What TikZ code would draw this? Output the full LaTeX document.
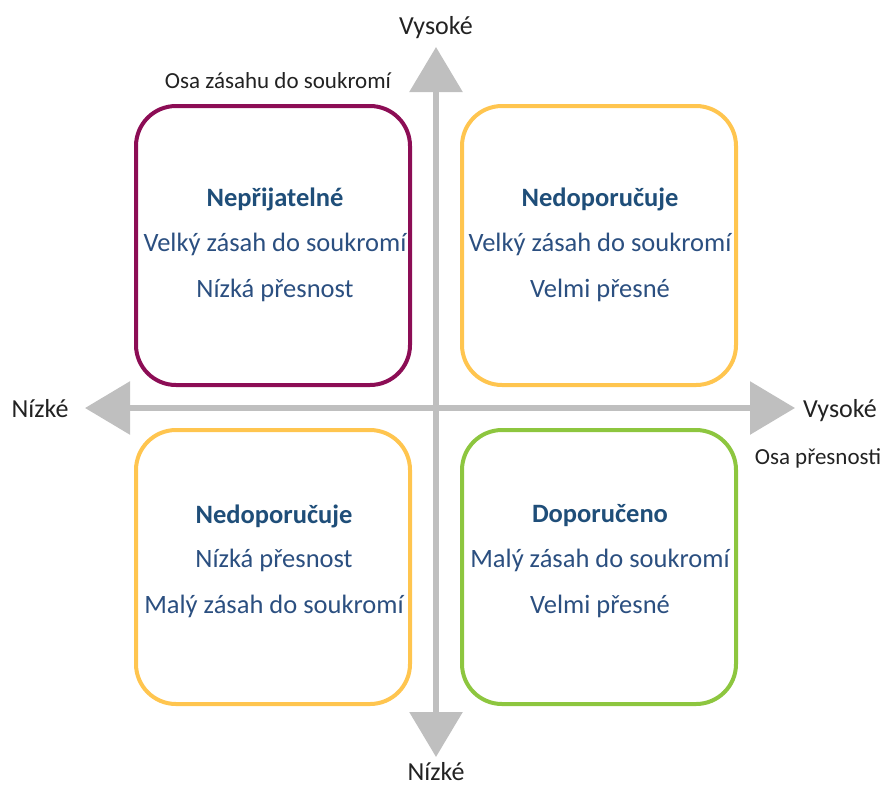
\documentclass[tikz,border=0pt]{standalone}
\usepackage{fontspec}
\setmainfont{Carlito}
\usetikzlibrary{arrows.meta}
\definecolor{purp}{HTML}{8C0D55}
\definecolor{yel}{HTML}{FFC54F}
\definecolor{grn}{HTML}{8DC63F}
\definecolor{axgray}{HTML}{BFBFBF}
\definecolor{txtblue}{HTML}{2B4F80}
\definecolor{ttlblue}{HTML}{1F4E79}
\definecolor{lbl}{HTML}{222222}
\tikzset{
  quad/.style={draw, line width=4pt, rounded corners=40pt, minimum width=274pt, minimum height=279pt, inner sep=0pt},
  ttl/.style={font=\fontsize{26.5}{30}\selectfont\bfseries, text=ttlblue, inner sep=0pt},
  body/.style={font=\fontsize{26.5}{30}\selectfont, text=txtblue, inner sep=0pt},
  axlbl/.style={font=\fontsize{26}{30}\selectfont, text=lbl, inner sep=0pt, anchor=base},
  axname/.style={font=\fontsize{23}{26}\selectfont, text=lbl, inner sep=0pt, anchor=base},
  axis/.style={line width=6pt, draw=axgray, {Triangle[width=52pt,length=45pt]}-{Triangle[width=52pt,length=45pt]}}
}
\begin{document}
\begin{tikzpicture}[x=1pt,y=-1pt]
\useasboundingbox (0,0) rectangle (885,785);
% axes
\coordinate (top) at (436,47);
\coordinate (bot) at (436,757);
\coordinate (lft) at (85,408);
\coordinate (rgt) at (795,408);
\draw[axis] (top) -- (bot);
\draw[axis] (lft) -- (rgt);
% quadrants
\node[quad, draw=purp, minimum height=279pt] (tl) at (273,245.5) {};
\node[quad, draw=yel, minimum height=279pt] (tr) at (599,245.5) {};
\node[quad, draw=yel, minimum height=274pt] (bl) at (273,567) {};
\node[quad, draw=grn, minimum height=274pt] (br) at (599,567) {};
% texts
\node[ttl] (tl1) at (275,199) {Nepřijatelné};
\node[body] (tl2) at (275,244) {Velký zásah do soukromí};
\node[body] (tl3) at (275,290) {Nízká přesnost};
\node[ttl] (tr1) at (600,199) {Nedoporučuje};
\node[body] (tr2) at (600,244) {Velký zásah do soukromí};
\node[body] (tr3) at (600,290) {Velmi přesné};
\node[ttl] (bl1) at (274,516) {Nedoporučuje};
\node[body] (bl2) at (274,560) {Nízká přesnost};
\node[body] (bl3) at (274,606) {Malý zásah do soukromí};
\node[ttl] (br1) at (600,516) {Doporučeno};
\node[body] (br2) at (600,560) {Malý zásah do soukromí};
\node[body] (br3) at (600,606) {Velmi přesné};
% axis labels
\node[axlbl] (vt) at (436,34) {Vysoké};
\node[axname] (on) at (278,88) {Osa zásahu do soukromí};
\node[axlbl] (nl) at (40,417) {Nízké};
\node[axlbl] (vr) at (840,417) {Vysoké};
\node[axname] (op) at (818,464) {Osa přesnosti};
\node[axlbl] (nb) at (436,780) {Nízké};
\end{tikzpicture}
\end{document}
